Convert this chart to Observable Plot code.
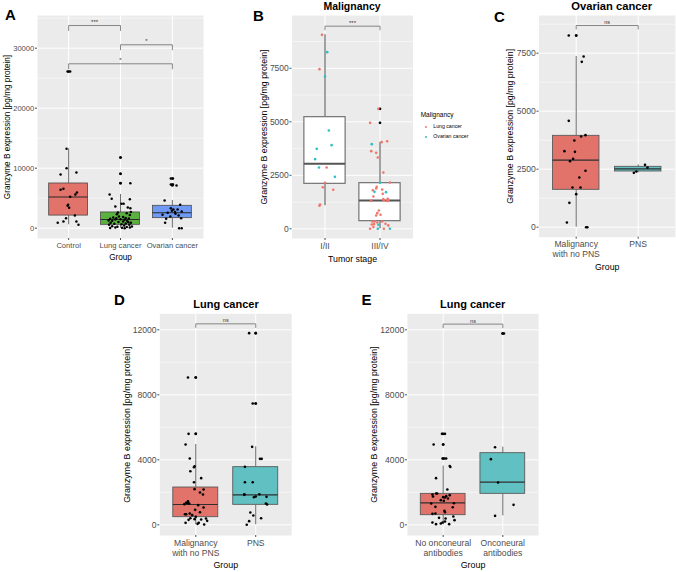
<!DOCTYPE html>
<html><head><meta charset="utf-8">
<script src="https://cdn.jsdelivr.net/npm/d3@7"></script>
<script src="https://cdn.jsdelivr.net/npm/@observablehq/plot@0.6"></script>
<style>
body{margin:0;background:#fff;}
#fig{position:relative;width:676px;height:572px;overflow:hidden;background:#fff;font-family:'Liberation Sans',Arial,sans-serif;}
.p{position:absolute;}
.t{position:absolute;white-space:nowrap;color:#000;font-family:'Liberation Sans',Arial,sans-serif;}
</style></head><body><div id="fig"></div>
<script>
// ---------- DATA ----------
// Panel A: [value, jitter]
const groupsA = ["Control", "Lung cancer", "Ovarian cancer"];
const controlA = [[13230,-0.04],[10000,-0.04],[9280,0.15],[8950,-0.155],[6560,-0.1],[6390,-0.155],[5950,0.16],[5610,0.13],[5220,0.03],[3890,-0.01],[3720,-0.02],[3390,0.01],[2110,0.12],[1670,-0.05],[1110,-0.1],[890,-0.21],[1110,0.15],[560,0.19],[26100,-0.02],[26100,0.03]];
const lungA = [[11780,0],[9060,0],[7500,0],[7500,0.19],[5620,-0.21],[4890,-0.17],[4840,0.18],[4060,0.02],[4060,0.06],[3620,-0.1],[3450,0.14],[3340,0.19],[2700,0.2],[2620,-0.05],[2500,0.12],[2340,-0.07],[2200,0.18],[1950,-0.03],[1850,0.05],[1780,-0.14],[1700,0.1],[1650,-0.08],[1620,0.16],[1560,-0.2],[1500,0],[1450,-0.1],[1390,0.08],[1300,-0.23],[1230,-0.16],[1200,0.13],[1120,0.05],[1050,-0.04],[1000,0.15],[900,0.2],[890,-0.19],[800,0.1],[730,-0.12],[650,0.02],[560,0.17],[560,-0.22],[450,0.07],[340,-0.16],[300,0.22],[250,-0.06],[200,0.12],[120,-0.1],[100,0.18],[60,0.03],[20,-0.2],[0,0.08]];
const ovarianA = [[8283,-0.03],[8283,0.01],[7283,-0.03],[7283,0.01],[7117,0.08],[4617,-0.15],[3900,0.15],[3340,-0.03],[3117,0.02],[3117,0.1],[2900,-0.01],[2783,0.18],[2700,0.05],[2560,-0.09],[2394,0.06],[2228,-0.19],[2117,0.12],[1950,-0.04],[1672,0.17],[1561,-0.12],[894,-0.14],[0,0.13],[0,0.18]];
const boxesA = [[560,2100,5200,7450,13230],[0,560,1450,2620,5620],[0,1670,2560,3730,4620]]; // lower, q1, median, q3, upper
const outliersA = [[26100],[11780,9060,7500],[8280,7280,7120]];
const signifA = [["Control","Lung cancer",33780,"***"],["Lung cancer","Ovarian cancer",30570,"*"],["Control","Ovarian cancer",27400,"*"]];
const yTicksA = [0,10000,20000,30000];

// Panel B: [value, jitter]
const groupsB = ["I/II", "III/IV"];
const malignancyB = ["Lung cancer", "Ovarian cancer"];
const lungB_I = [[9064,-0.055],[7460,-0.1],[2865,0.03],[2148,0],[1945,-0.04],[1822,0.15],[1136,-0.09],[1075,-0.1]];
const ovarianB_I = [[8254,0.04],[7117,0],[4594,0.07],[3737,-0.15],[3908,0.12],[3254,-0.18],[2865,-0.11],[2428,0.18]];
const lungB_III = [[5606,-0.03],[4952,-0.18],[4048,0.03],[4091,0.13],[3628,-0.16],[3550,-0.07],[3332,-0.04],[2631,0.06],[2164,0.18],[1961,-0.06],[1883,-0.07],[1805,-0.13],[1836,0.04],[1634,0.05],[1509,-0.12],[1400,0.14],[1300,0.13],[1330,0.15],[1385,0.06],[1338,0.07],[1307,-0.16],[855,-0.02],[731,-0.05],[654,0.01],[623,-0.07],[341,-0.14],[341,-0.1],[295,-0.05],[341,0.04],[218,-0.11],[203,-0.15],[233,0.1],[160,0.15],[80,-0.12],[0,-0.18],[0,0.07]];
const ovarianB_III = [[3955,-0.15],[2150,0],[1712,0.11],[1727,-0.1],[187,-0.03],[0,-0.04],[0,0.18]];
const boxesB = [[1075,2101,3036,5217,9064],[0,357,1322,2132,4050]];
const outliersB = [[],[5606,4952]];
const signifB = [["I/II","III/IV",9469,"***"]];
const yTicksB = [0,2500,5000,7500];

// Panel C
const groupsC = ["Malignancy\nwith no PNS", "PNS"];
const noPnsC = [[8262,-0.12],[8262,0],[7357,0.12],[7127,0.09],[4585,-0.12],[3967,0.15],[3909,0.08],[3737,-0.03],[3277,-0.19],[3248,-0.02],[2947,-0.05],[2846,-0.1],[2430,0.15],[2142,0.05],[1711,-0.06],[1711,0.07],[1424,0],[1050,-0.11],[202,-0.15],[0,0.16],[0,0.18]];
const pnsC = [[2688,0.11],[2568,0.15],[2401,-0.03],[2343,-0.07]];
const boxesC = [[0,1611,2889,3938,7357],[2343,2401,2510,2602,2688]];
const outliersC = [[8262],[]];
const signifC = [["Malignancy\nwith no PNS","PNS",8694,"ns"]];
const yTicksC = [0,2500,5000,7500];

// Panel D
const groupsD = ["Malignancy\nwith no PNS", "PNS"];
const noPnsD = [[9065,-0.13],[9065,0],[5598,-0.12],[5598,0],[4942,-0.17],[4080,-0.1],[3608,-0.02],[3546,-0.03],[3300,-0.09],[2870,0.09],[2623,-0.03],[2193,-0.02],[2172,0.13],[1988,0.07],[1865,0.12],[1454,-0.13],[1352,-0.16],[1311,-0.11],[1270,-0.19],[1331,-0.13],[1209,0.04],[1065,0.13],[921,-0.01],[695,-0.1],[654,-0.16],[654,-0.18],[777,0.07],[593,-0.06],[490,0],[408,-0.09],[347,-0.02],[388,0.17],[244,0.19],[306,-0.12],[121,-0.17],[121,0.05],[59,0.03],[18,0.14],[327,0.09]];
const pnsD = [[11793,-0.11],[11793,0],[7465,-0.05],[7465,0],[4798,-0.06],[4060,0.07],[4060,0.1],[3567,-0.18],[2623,-0.18],[2623,-0.05],[1885,-0.19],[1845,-0.19],[1885,0.06],[1700,-0.03],[1740,0],[1720,0.18],[1311,0.17],[1250,0.19],[757,-0.09],[572,-0.04],[408,0.09],[224,-0.11],[0,-0.15]];
const boxesD = [[0,470,1249,2295,4942],[0,1229,1844,3547,4798]];
const outliersD = [[9065,5598],[11793,7465]];
const signifD = [["Malignancy\nwith no PNS","PNS",12367,"ns"]];
const yTicksD = [0,4000,8000,12000];

// Panel E
const groupsE = ["No onconeural\nantibodies", "Onconeural\nantibodies"];
const noOncE = [[5598,-0.02],[5598,0.03],[4942,-0.16],[4942,0],[4080,-0.01],[4080,0.02],[4080,0.05],[3618,0.11],[3556,0.12],[2870,-0.12],[2172,0.07],[1926,-0.12],[1926,-0.1],[1865,-0.18],[1742,-0.17],[1824,0.11],[1701,0],[1681,0.03],[1763,0.05],[1619,0.08],[1516,-0.04],[1475,0.01],[1311,-0.2],[1331,0.18],[1106,-0.13],[1085,0.16],[860,0.02],[778,0.03],[675,-0.18],[695,-0.13],[429,-0.07],[388,0.04],[142,-0.01],[511,0.17],[286,0.19],[142,-0.18],[39,-0.12],[80,-0.04],[39,0.1],[203,0.03]];
const oncE = [[11773,-0.005],[11773,0.02],[4777,-0.13],[4039,-0.2],[2603,-0.08],[1229,0.18],[552,-0.13]];
const boxesE = [[0,593,1352,1906,3618],[552,1906,2623,4408,4777]];
const outliersE = [[5598,4942,4080],[11773]];
const signifE = [["No onconeural\nantibodies","Onconeural\nantibodies",12350,"ns"]];
const yTicksE = [0,4000,8000,12000];

// ---------- DRAWING ----------
const RED = "#E2736A", GREEN = "#5BB13F", BLUE = "#6E99F4", TEAL = "#60C0C2";
const PRED = "#EE766C", PTEAL = "#2EBFC2";
const FONT = "'Liberation Sans', Arial, sans-serif";
const fig = document.getElementById("fig");

function pts(groups, g, arr, fill) {
  const i = groups.indexOf(g) + 1;
  return arr.map(([v, j]) => ({i, v, j, fill}));
}

function panel(o) {
  const n = o.groups.length;
  const idx = g => o.groups.indexOf(g) + 1;
  const hw = 0.375;
  const boxes = o.boxes.map((b, k) => ({i: k + 1, lo: b[0], q1: b[1], med: b[2], q3: b[3], hi: b[4], fill: o.fills[k]}));
  const outs = o.outliers.flatMap((arr, k) => arr.map(v => ({i: k + 1, v})));
  const segs = o.signif.flatMap(([a, b, y]) => {
    const ia = idx(a), ib = idx(b);
    return [{x1: ia, y1: y - o.tip, x2: ia, y2: y}, {x1: ia, y1: y, x2: ib, y2: y}, {x1: ib, y1: y, x2: ib, y2: y - o.tip}];
  });
  const labs = o.signif.map(([a, b, y, l]) => ({x: (idx(a) + idx(b)) / 2, y, l}));
  const cats = d3.range(1, n + 1);
  const marks = [
    Plot.frame({fill: "#EBEBEB", stroke: "none"}),
    Plot.ruleY(o.yMinor, {stroke: "#fff", strokeWidth: 0.5}),
    Plot.ruleY(o.yTicks, {stroke: "#fff", strokeWidth: 1}),
    Plot.ruleX(cats, {stroke: "#fff", strokeWidth: 1}),
    Plot.ruleX(boxes, {x: "i", y1: "lo", y2: "q1", stroke: o.boxStroke, strokeWidth: o.whiskerWidth}),
    Plot.ruleX(boxes, {x: "i", y1: "q3", y2: "hi", stroke: o.boxStroke, strokeWidth: o.whiskerWidth}),
    ...boxes.map(b => Plot.rect([b], {x1: d => d.i - hw, x2: d => d.i + hw, y1: "q1", y2: "q3", fill: b.fill, stroke: o.boxStroke, strokeWidth: o.boxWidth})),
    Plot.ruleY(boxes, {y: "med", x1: d => d.i - hw, x2: d => d.i + hw, stroke: o.medStroke, strokeWidth: o.medWidth}),
    Plot.dot(outs, {x: "i", y: "v", r: 1.35, fill: "#000", stroke: "none"}),
    ...o.points.map(p => Plot.dot(p.data, {x: d => d.i + d.j, y: "v", r: o.r, fill: p.fill, stroke: "none"})),
    Plot.link(segs, {x1: "x1", y1: "y1", x2: "x2", y2: "y2", stroke: "#6b6b6b", strokeWidth: 0.8}),
    Plot.text(labs, {x: "x", y: "y", text: "l", lineAnchor: "bottom", dy: -1.5, fontSize: o.sigSize, fill: "#333"}),
    Plot.axisY(o.yTicks, {tickSize: 2, tickPadding: 1.2, tickFormat: d => String(d), color: "#4d4d4d", label: null}),
    Plot.axisX(cats, {tickSize: 2, tickPadding: 1.2, tickFormat: i => o.groups[i - 1], color: "#4d4d4d", label: null, lineHeight: 1.15}),
    Plot.text([o.xTitle], {text: d => d, frameAnchor: "bottom", textAnchor: "middle", lineAnchor: "middle", dy: o.xTitleDy, fontSize: o.titleSize, fill: "#000"}),
    Plot.text([o.yTitle], {text: d => d, frameAnchor: "left", textAnchor: "middle", lineAnchor: "middle", rotate: -90, dx: o.yTitleDx, fontSize: o.titleSize, fill: "#000"})
  ];
  const svg = Plot.plot({
    width: o.width, height: o.height,
    marginTop: o.m[0], marginRight: o.m[1], marginBottom: o.m[2], marginLeft: o.m[3],
    x: {domain: [0.4, n + 0.6]},
    y: {domain: o.yDomain},
    style: {fontFamily: FONT, fontSize: o.tickSize + "px", background: "transparent", overflow: "visible"},
    marks
  });
  svg.classList.add("p");
  svg.style.left = o.left + "px";
  svg.style.top = o.top + "px";
  fig.appendChild(svg);
}

const YT = "Granzyme B expression [pg/mg protein]";

panel({
  left: 0, top: 0, width: 210, height: 265, m: [15, 7, 27, 37],
  groups: groupsA, yDomain: [-1720, 35450], yTicks: yTicksA, yMinor: [5000, 15000, 25000, 35000],
  boxes: boxesA, fills: [RED, GREEN, BLUE], outliers: outliersA, signif: signifA, tip: 900,
  points: [{data: pts(groupsA, "Control", controlA), fill: "#000"}, {data: pts(groupsA, "Lung cancer", lungA), fill: "#000"}, {data: pts(groupsA, "Ovarian cancer", ovarianA), fill: "#000"}],
  boxStroke: "#4a4a4a", boxWidth: 0.8, whiskerWidth: 0.8, medStroke: "#2a2a2a", medWidth: 1.1, r: 1.25,
  tickSize: 7.6, titleSize: 8.2, sigSize: 6, xTitle: "Group", yTitle: YT, xTitleDy: 19, yTitleDx: -30.5
});

panel({
  left: 250, top: 0, width: 165, height: 275, m: [15, 2.5, 37, 41.5],
  groups: groupsB, yDomain: [-453, 9967], yTicks: yTicksB, yMinor: [1250, 3750, 6250, 8750],
  boxes: boxesB, fills: ["#fff", "#fff"], outliers: outliersB, signif: signifB, tip: 190,
  points: [
    {data: pts(groupsB, "I/II", lungB_I).concat(pts(groupsB, "III/IV", lungB_III)), fill: PRED},
    {data: pts(groupsB, "I/II", ovarianB_I).concat(pts(groupsB, "III/IV", ovarianB_III)), fill: PTEAL}
  ],
  boxStroke: "#737373", boxWidth: 1.2, whiskerWidth: 1.3, medStroke: "#555", medWidth: 2, r: 1.3,
  tickSize: 8.5, titleSize: 8.8, sigSize: 6, xTitle: "Tumor stage", yTitle: YT, xTitleDy: 20.3, yTitleDx: -28
});

panel({
  left: 500, top: 0, width: 176, height: 275, m: [15, 1.1, 38.3, 38.5],
  groups: groupsC, yDomain: [-431, 9125], yTicks: yTicksC, yMinor: [1250, 3750, 6250, 8750],
  boxes: boxesC, fills: [RED, TEAL], outliers: outliersC, signif: signifC, tip: 172,
  points: [{data: pts(groupsC, groupsC[0], noPnsC), fill: "#000"}, {data: pts(groupsC, "PNS", pnsC), fill: "#000"}],
  boxStroke: "#5a5a5a", boxWidth: 0.9, whiskerWidth: 0.9, medStroke: "#2f2f2f", medWidth: 1.2, r: 1.3,
  tickSize: 8.6, titleSize: 8.8, sigSize: 5.5, xTitle: "Group", yTitle: YT, xTitleDy: 30, yTitleDx: -28.5
});

panel({
  left: 115, top: 280, width: 180, height: 292, m: [33.3, 3.8, 37, 44.3],
  groups: groupsD, yDomain: [-658, 12985], yTicks: yTicksD, yMinor: [2000, 6000, 10000],
  boxes: boxesD, fills: [RED, TEAL], outliers: outliersD, signif: signifD, tip: 250,
  points: [{data: pts(groupsD, groupsD[0], noPnsD), fill: "#000"}, {data: pts(groupsD, "PNS", pnsD), fill: "#000"}],
  boxStroke: "#5a5a5a", boxWidth: 0.9, whiskerWidth: 0.9, medStroke: "#2f2f2f", medWidth: 1.2, r: 1.3,
  tickSize: 8.6, titleSize: 8.9, sigSize: 5.5, xTitle: "Group", yTitle: YT, xTitleDy: 30, yTitleDx: -32.3
});

panel({
  left: 360, top: 280, width: 185, height: 292, m: [33.3, 6.9, 37, 46.9],
  groups: groupsE, yDomain: [-658, 12985], yTicks: yTicksE, yMinor: [2000, 6000, 10000],
  boxes: boxesE, fills: [RED, TEAL], outliers: outliersE, signif: signifE, tip: 250,
  points: [{data: pts(groupsE, groupsE[0], noOncE), fill: "#000"}, {data: pts(groupsE, groupsE[1], oncE), fill: "#000"}],
  boxStroke: "#5a5a5a", boxWidth: 0.9, whiskerWidth: 0.9, medStroke: "#2f2f2f", medWidth: 1.2, r: 1.3,
  tickSize: 8.6, titleSize: 8.9, sigSize: 5.5, xTitle: "Group", yTitle: YT, xTitleDy: 30, yTitleDx: -33.4
});

// ---------- TEXT OVERLAY (panel letters, titles, legend) ----------
function label(text, x, baseline, size, weight, center) {
  const d = document.createElement("div");
  d.className = "t";
  d.textContent = text;
  d.style.fontSize = size + "px";
  d.style.lineHeight = size + "px";
  d.style.fontWeight = weight;
  d.style.left = x + "px";
  d.style.top = (baseline - 0.847 * size) + "px";
  if (center) d.style.transform = "translateX(-50%)";
  fig.appendChild(d);
}
label("A", 5, 20, 15, "bold");
label("B", 253, 20.7, 15, "bold");
label("C", 494, 21.7, 15, "bold");
label("D", 114, 305, 15, "bold");
label("E", 361.5, 305, 15, "bold");
label("Malignancy", 352, 9.8, 10.5, "bold", true);
label("Ovarian cancer", 611.7, 10, 11.2, "bold", true);
label("Lung cancer", 226, 308.6, 11, "bold", true);
label("Lung cancer", 472.7, 308.6, 11, "bold", true);

// legend for panel B
label("Malignancy", 420.7, 117.2, 6.5, "normal");
const legColors = [PRED, PTEAL];
malignancyB.forEach((m, k) => {
  const y = 127 + k * 10;
  const dot = document.createElement("div");
  dot.style.cssText = `position:absolute;left:${426 - 1.4}px;top:${y - 1.4}px;width:2.8px;height:2.8px;border-radius:50%;background:${legColors[k]};`;
  fig.appendChild(dot);
  label(m, 433.3, y + 1.8, 5.2, "normal");
});
</script></body></html>
